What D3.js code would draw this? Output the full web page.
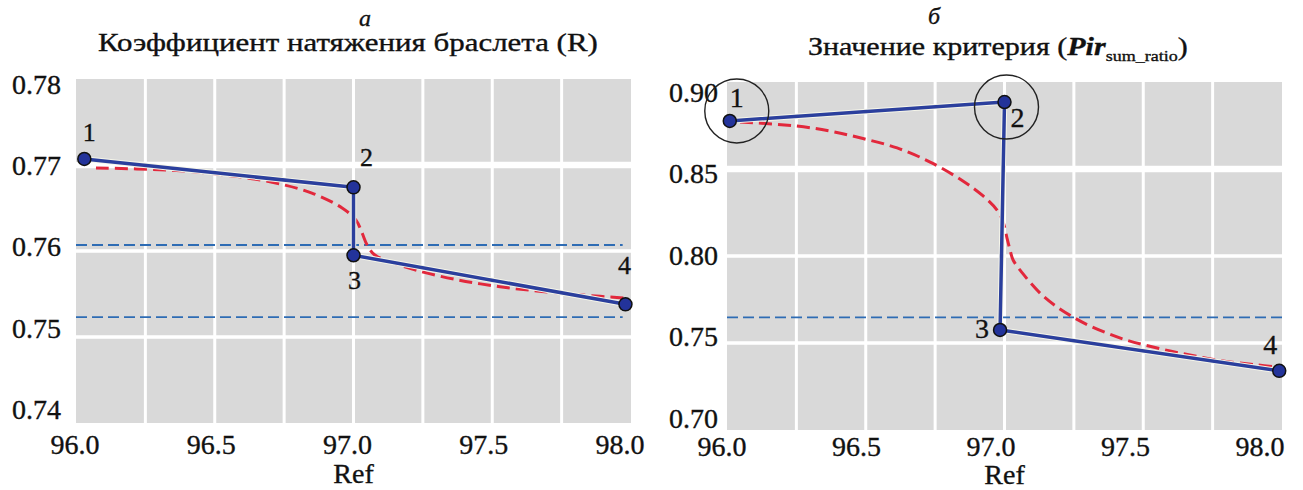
<!DOCTYPE html>
<html>
<head>
<meta charset="utf-8">
<script src="https://cdn.jsdelivr.net/npm/d3@7"></script>
<style>
  body { margin: 0; background: #fff; }
  text { font-family: "Liberation Serif", "Times New Roman", "DejaVu Serif", serif; fill: #111; stroke: #111; stroke-width: 0.35px; }
</style>
</head>
<body>
<svg id="chart" width="1303" height="490"></svg>
<script>
// ---- data ----
const refTicks = [96.0, 96.5, 97.0, 97.5, 98.0];
const refGrid = [96.25, 96.5, 96.75, 97.0, 97.25, 97.5, 97.75];
const pointIds = ["1", "2", "3", "4"];

// panel a: bracelet tension coefficient R
const rTicks = [0.74, 0.75, 0.76, 0.77, 0.78];
const rRef = [96.03, 97.0, 97.0, 97.98];
const rValues = [0.7707, 0.7674, 0.7595, 0.7538];
const rFitRef = [96.072, 96.328, 96.508, 96.703, 96.850, 96.959, 97.009, 97.031, 97.049, 97.077, 97.153, 97.229, 97.377, 97.528, 97.679, 97.827, 97.978];
const rFitValues = [0.76965, 0.76942, 0.76895, 0.76802, 0.76674, 0.76500, 0.76360, 0.76209, 0.76070, 0.75953, 0.75851, 0.75773, 0.75663, 0.75585, 0.75529, 0.75487, 0.75453];
const rThresholds = [0.7607, 0.7523];
const rThresholdEnd = 97.97;

// panel б: criterion Pir_sum_ratio
const pirTicks = [0.70, 0.75, 0.80, 0.85, 0.90];
const pirRef = [96.01, 97.0, 96.984, 97.99];
const pirValues = [0.8776, 0.8885, 0.7575, 0.7340];
const pirFitRef = [96.047, 96.252, 96.371, 96.490, 96.613, 96.732, 96.850, 96.923, 96.973, 96.995, 97.009, 97.020, 97.031, 97.067, 97.128, 97.189, 97.247, 97.308, 97.427, 97.550, 97.668, 97.787, 97.910, 97.982];
const pirFitValues = [0.8770, 0.8747, 0.8718, 0.8675, 0.8621, 0.8540, 0.8431, 0.8345, 0.8264, 0.8195, 0.8103, 0.8034, 0.7977, 0.7897, 0.7787, 0.7707, 0.7649, 0.7598, 0.7523, 0.7471, 0.7431, 0.7397, 0.7374, 0.7362];
const pirThresholds = [0.7647];
const pirThresholdEnd = 98.0;
const pirCircled = ["1", "2"];

const svg = d3.select("#chart");

const blue = "#2b3f9d", dotFill = "#23339a", red = "#e2283c", thrBlue = "#2e6cb4", bg = "#d9d9d9";

// the figure's titles are set wide: stretch them to the width they take there
function stretchText(t, cx, baseline, width) {
  const len = t.node().getComputedTextLength();
  t.attr("transform", "translate(" + (cx - width / 2) + "," + baseline + ") scale(" + (width / len) + ",1)");
}

function drawPanel(p) {
  const g = svg.append("g");
  const x = d3.scaleLinear().domain([96, 98]).range([p.left, p.right]);
  const y = d3.scaleLinear().domain(p.yDomain).range([p.bottom, p.top]);
  const xLab = d3.scaleLinear().domain([96, 98]).range(p.xLabRange);
  const yLab = d3.scaleLinear().domain(p.yDomain).range(p.yLabRange);

  g.append("rect")
    .attr("x", p.left).attr("y", p.top)
    .attr("width", p.right - p.left).attr("height", p.bottom - p.top)
    .attr("fill", bg);

  g.selectAll(".vgrid").data(refGrid).join("line")
    .attr("x1", d => x(d)).attr("x2", d => x(d))
    .attr("y1", p.top).attr("y2", p.bottom)
    .attr("stroke", "#fff").attr("stroke-width", 3);

  g.selectAll(".hgrid").data(p.yTicks.slice(1, -1)).join("line")
    .attr("x1", p.left).attr("x2", p.right)
    .attr("y1", d => y(d)).attr("y2", d => y(d))
    .attr("stroke", "#fff")
    .attr("stroke-width", d => d === p.thickTick ? 6.5 : 3.5);

  // tick labels
  g.selectAll(".ylab").data(p.yTicks).join("text")
    .attr("x", p.left - p.yLabGap).attr("y", d => yLab(d))
    .attr("dy", "0.35em").attr("text-anchor", "end")
    .attr("font-size", 28)
    .text(d => d3.format(".2f")(d));

  g.selectAll(".xlab").data(refTicks).join("text")
    .attr("x", d => xLab(d)).attr("y", p.xLabBase)
    .attr("text-anchor", "middle").attr("font-size", 28)
    .text(d => d3.format(".1f")(d));

  g.append("text")
    .attr("x", x(97)).attr("y", p.refBase)
    .attr("text-anchor", "middle").attr("font-size", 28)
    .text("Ref");

  // threshold lines
  g.selectAll(".thr").data(p.thresholds).join("line")
    .attr("x1", x(96)).attr("x2", x(p.thresholdEnd))
    .attr("y1", d => y(d)).attr("y2", d => y(d))
    .attr("stroke", thrBlue).attr("stroke-width", 1.8)
    .attr("stroke-dasharray", "11,5");

  // fitted red dashed curve
  const fit = p.fitRef.map((r, i) => [r, p.fitValues[i]]);
  g.append("path")
    .datum(fit)
    .attr("fill", "none").attr("stroke", red).attr("stroke-width", 3)
    .attr("stroke-dasharray", "13,6")
    .attr("d", d3.line().x(d => x(d[0])).y(d => y(d[1])).curve(d3.curveCatmullRom.alpha(0.5)));

  // measured points
  const pts = p.ref.map((r, i) => ({ id: pointIds[i], ref: r, v: p.values[i] }));
  const line = d3.line().x(d => x(d.ref)).y(d => y(d.v));
  g.append("path").datum(pts)
    .attr("fill", "none").attr("stroke", "#f6f6ea").attr("stroke-width", 5.5)
    .attr("d", line);
  g.append("path").datum(pts)
    .attr("fill", "none").attr("stroke", blue).attr("stroke-width", 3.5)
    .attr("stroke-linejoin", "round")
    .attr("d", line);

  g.selectAll(".dot").data(pts).join("circle")
    .attr("cx", d => x(d.ref)).attr("cy", d => y(d.v)).attr("r", 6.5)
    .attr("fill", dotFill).attr("stroke", "#111").attr("stroke-width", 1.5);

  g.selectAll(".ring").data(pts.filter(d => p.circled.includes(d.id))).join("circle")
    .attr("cx", d => x(d.ref) + p.ringOffset[d.id][0])
    .attr("cy", d => y(d.v) + p.ringOffset[d.id][1])
    .attr("r", 32)
    .attr("fill", "none").attr("stroke", "#222").attr("stroke-width", 1.4);

  g.selectAll(".plab").data(pts).join("text")
    .attr("x", d => x(d.ref) + p.labelOffset[d.id][0])
    .attr("y", d => y(d.v) + p.labelOffset[d.id][1])
    .attr("dy", "0.35em").attr("text-anchor", "middle")
    .attr("font-size", p.labelSize)
    .text(d => d.id);

  // panel letter and title
  g.append("text")
    .attr("x", p.letterX).attr("y", p.letterBase)
    .attr("text-anchor", "middle").attr("font-size", 24)
    .attr("font-style", "italic")
    .text(p.letter);

  const t = g.append("text").attr("font-size", 25);
  p.title(t);
  stretchText(t, p.titleCx, p.titleBase, p.titleWidth);
}

drawPanel({
  left: 76, right: 631, top: 79, bottom: 423,
  yDomain: [0.74, 0.78], yTicks: rTicks, thickTick: 0.77,
  xLabRange: [75, 620], yLabRange: [409, 84], yLabGap: 15, xLabBase: 454, refBase: 483,
  ref: rRef, values: rValues, fitRef: rFitRef, fitValues: rFitValues,
  thresholds: rThresholds, thresholdEnd: rThresholdEnd,
  circled: [], ringOffset: {},
  labelSize: 26,
  labelOffset: { "1": [5, -27], "2": [13, -30], "3": [1, 25], "4": [-1, -39] },
  letter: "а", letterX: 365, letterBase: 26,
  titleCx: 348, titleBase: 51, titleWidth: 500,
  title: t => t.text("Коэффициент натяжения браслета (R)")
});

drawPanel({
  left: 727, right: 1282, top: 82, bottom: 430,
  yDomain: [0.70, 0.90], yTicks: pirTicks, thickTick: 0.85,
  xLabRange: [722, 1260], yLabRange: [418, 92], yLabGap: 9, xLabBase: 456, refBase: 484,
  ref: pirRef, values: pirValues, fitRef: pirFitRef, fitValues: pirFitValues,
  thresholds: pirThresholds, thresholdEnd: pirThresholdEnd,
  circled: pirCircled, ringOffset: { "1": [7, -10], "2": [2, 5] },
  labelSize: 28,
  labelOffset: { "1": [7, -24], "2": [13, 15], "3": [-18, -2], "4": [-9, -27] },
  letter: "б", letterX: 934, letterBase: 24,
  titleCx: 998, titleBase: 55, titleWidth: 380,
  title: t => {
    t.append("tspan").text("Значение критерия (");
    t.append("tspan").attr("font-style", "italic").attr("font-weight", "bold").text("Pir");
    t.append("tspan").attr("font-size", 15).attr("dy", 6).text("sum_ratio");
    t.append("tspan").attr("dy", -6).text(")");
  }
});
</script>
</body>
</html>
